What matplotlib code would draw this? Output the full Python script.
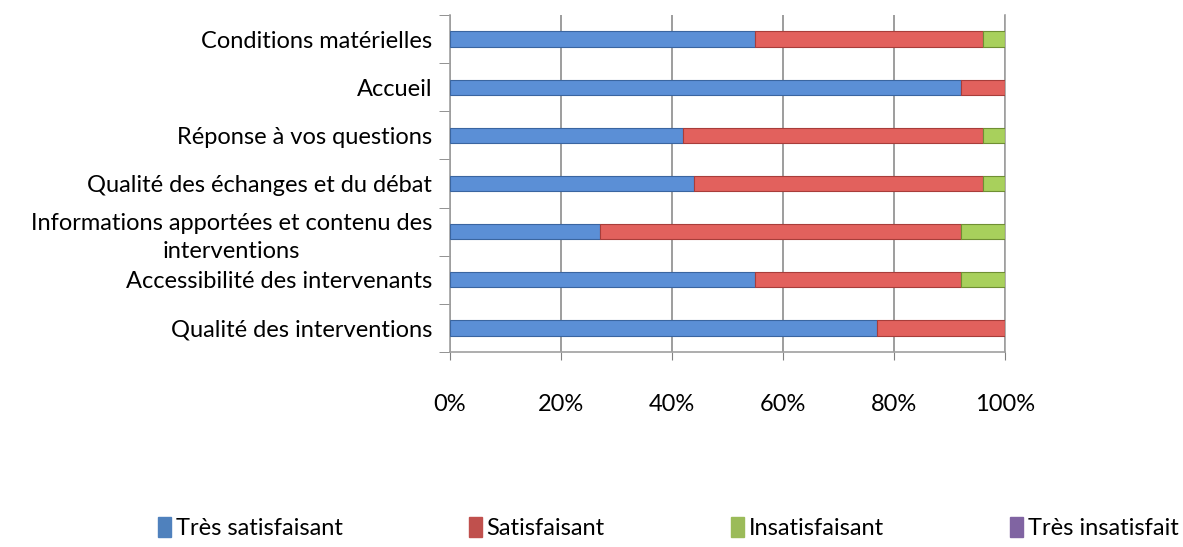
import matplotlib.pyplot as plt
import numpy as np

# survey answers, bottom bar first
questions = ["Qualité des interventions",
             "Accessibilité des intervenants",
             "Informations apportées et contenu des\ninterventions",
             "Qualité des échanges et du débat",
             "Réponse à vos questions",
             "Accueil",
             "Conditions matérielles"]
tres_satisfaisant = [77, 55, 27, 44, 42, 92, 55]
satisfaisant = [23, 37, 65, 52, 54, 8, 41]
insatisfaisant = [0, 8, 8, 4, 4, 0, 4]
tres_insatisfait = [0, 0, 0, 0, 0, 0, 0]

series = [("Très satisfaisant", tres_satisfaisant, "#5b8fd6", "#3a65a0", "#4f81bd"),
          ("Satisfaisant", satisfaisant, "#e2615d", "#a83d3a", "#c0504d"),
          ("Insatisfaisant", insatisfaisant, "#a8d05c", "#6f8f33", "#9bbb59"),
          ("Très insatisfait", tres_insatisfait, "#8f72b5", "#5f4a80", "#8064a2")]

plt.rcParams['font.family'] = ['Lato', 'DejaVu Sans']

fig = plt.figure(figsize=(11.83, 5.47), dpi=100)
ax = fig.add_axes([0.3804, 0.3565, 0.4691, 0.6161])

y = np.arange(len(questions))
left = np.zeros(len(questions))
for name, vals, col, edge, legcol in series:
    vals = np.array(vals, dtype=float)
    ax.barh(y, vals, left=left, height=0.32, color=col, edgecolor=edge,
            linewidth=0.8, zorder=3)
    left += vals

ax.set_xlim(0, 100)
ax.set_ylim(-0.5, len(questions) - 0.5)
ax.set_xticks(range(0, 101, 20))
ax.set_xticklabels([f"{v}%" for v in range(0, 101, 20)], fontsize=17)
ax.set_yticks(y)
ax.set_yticklabels(questions, fontsize=17, ha='right', multialignment='center',
                   linespacing=1.45)
ax.set_yticks(np.arange(-0.5, len(questions), 1), minor=True)
ax.tick_params(axis='y', which='major', length=0, pad=13)
ax.tick_params(axis='y', which='minor', length=8, color='#808080')
ax.tick_params(axis='x', length=6, color='#808080', pad=24)
ax.grid(axis='x', color='#8c8c8c', linewidth=1.2, zorder=0)

for s in ['top']:
    ax.spines[s].set_visible(False)
for s in ['left', 'bottom', 'right']:
    ax.spines[s].set_color('#a0a0a0')
    ax.spines[s].set_linewidth(1.2)

handles = [plt.Rectangle((0, 0), 1, 1, color=c[4]) for c in series]
fig.legend(handles, [c[0] for c in series], loc='lower center',
           bbox_to_anchor=(0.565, -0.025), ncol=4, frameon=False, fontsize=17,
           handlelength=0.55, handleheight=0.9, handletextpad=0.2,
           columnspacing=5.35)

fig.savefig("out.png", dpi=100)
